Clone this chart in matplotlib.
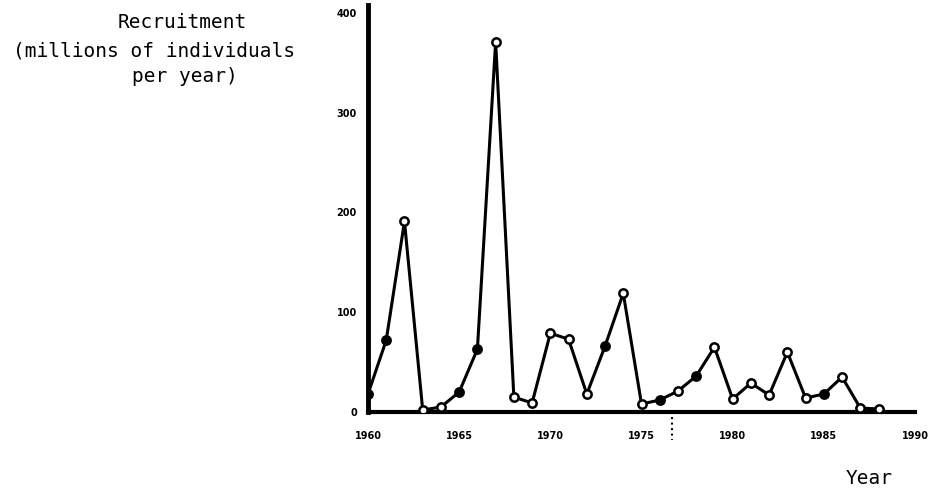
import matplotlib
matplotlib.use("Agg")
import matplotlib.pyplot as plt

years = list(range(1960, 1989))
recruitment = [18, 72, 191, 2, 5, 20, 63, 371, 15, 9, 79, 73, 18, 66, 119,
               8, 12, 21, 36, 65, 13, 29, 17, 60, 14, 18, 35, 4, 3]
filled = [True, True, False, False, False, True, True, False, False, False,
          False, False, False, True, False, False, True, False, True, False,
          False, False, False, False, False, True, False, False, False]
yticks = [0, 100, 200, 300, 400]
xticks = [1960, 1965, 1970, 1975, 1980, 1985, 1990]
mark_year = 1976.7

fig = plt.figure(figsize=(9.30, 4.93), dpi=100)
ax = fig.add_axes([368/930, 1-412/493, (915-368)/930, (412-13)/493])

ax.plot(years, recruitment, color='black', lw=2.2, zorder=2)
fx = [y for y, f in zip(years, filled) if f]
fy = [v for v, f in zip(recruitment, filled) if f]
ox = [y for y, f in zip(years, filled) if not f]
oy = [v for v, f in zip(recruitment, filled) if not f]
ax.plot(ox, oy, 'o', ms=6, mfc='white', mec='black', mew=1.8, zorder=3)
ax.plot(fx, fy, 'o', ms=6, mfc='black', mec='black', mew=1.8, zorder=3)

ax.set_xlim(1960, 1990)
ax.set_ylim(0, 400)
ax.set_xticks(xticks)
ax.set_yticks(yticks)
ax.set_xticklabels([str(t) for t in xticks], fontsize=7, fontweight='bold')
ax.set_yticklabels([str(t) for t in yticks], fontsize=7, fontweight='bold')
ax.tick_params(axis='x', length=0, pad=14)
ax.tick_params(axis='y', length=0, pad=8)
for s in ['top', 'right']:
    ax.spines[s].set_visible(False)
ax.spines['left'].set_linewidth(3.5)
ax.spines['bottom'].set_linewidth(3)
ax.spines['left'].set_bounds(0, 408)

ax.plot([mark_year, mark_year], [-5, -28], ls=':', color='black', lw=1.5,
        clip_on=False)

mono = 'DejaVu Sans Mono'
fig.text(182/930, 1-23/493, 'Recruitment', ha='center', va='center',
         fontsize=14, family=mono)
fig.text(154/930, 1-51/493, '(millions of individuals', ha='center', va='center',
         fontsize=14, family=mono)
fig.text(185/930, 1-76/493, 'per year)', ha='center', va='center',
         fontsize=14, family=mono)
fig.text(869/930, 1-478/493, 'Year', ha='center', va='center',
         fontsize=14, family=mono)

fig.savefig('out.png', dpi=100)
